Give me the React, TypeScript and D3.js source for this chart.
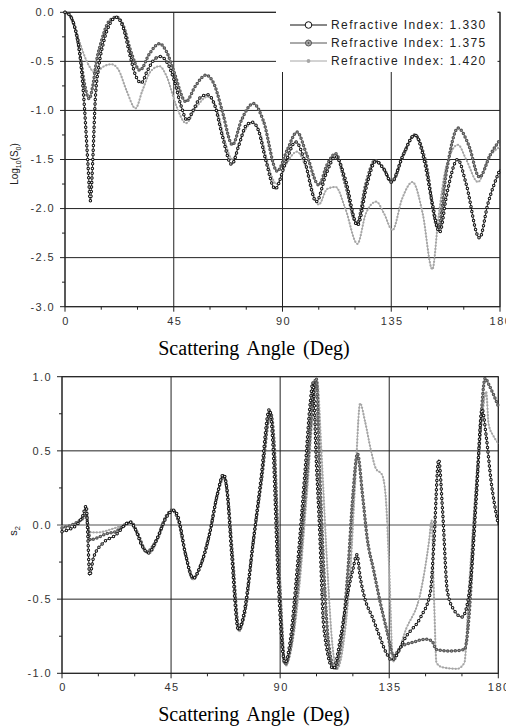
import React from 'react';
import * as d3 from 'd3';

type P = [number, number];

const xTicks = [0, 45, 90, 135, 180];
const xMinorTicks = [15, 30, 60, 75, 105, 120, 150, 165];
const topYTicks = [0, -0.5, -1, -1.5, -2, -2.5, -3];
const topYMinor = [-0.25, -0.75, -1.25, -1.75, -2.25, -2.75];
const botYTicks = [1, 0.5, 0, -0.5, -1];
const botYMinor = [0.75, 0.25, -0.25, -0.75];
const legendLabels = ['Refractive Index: 1.330', 'Refractive Index: 1.375', 'Refractive Index: 1.420'];

// Top panel: Log10(S0) vs scattering angle
const logS0_1330: P[] = [
  [0, 0], [2, -0.03], [4, -0.15], [6, -0.4], [8, -0.95], [9.5, -1.55], [10.5, -1.92], [11.5, -1.5], [12.5, -0.9],
  [14, -0.55], [16, -0.3], [18.5, -0.12], [21.3, -0.05], [24, -0.15], [27, -0.45], [29, -0.63], [31.5, -0.72],
  [34, -0.6], [37, -0.48], [39.5, -0.45], [42, -0.5], [45, -0.68], [48, -0.95], [50.5, -1.1], [53, -1.0],
  [56, -0.87], [59, -0.84], [62, -0.95], [65, -1.25], [69, -1.55], [72, -1.35], [75, -1.15], [77.5, -1.12],
  [80, -1.2], [83, -1.5], [87, -1.8], [91, -1.55], [95.5, -1.32], [99, -1.5], [104, -1.93], [108, -1.65],
  [112, -1.47], [116, -1.7], [121, -2.17], [125, -1.75], [128.5, -1.52], [132, -1.6], [135, -1.73], [140, -1.45],
  [144.8, -1.25], [149, -1.55], [152, -1.95], [155, -2.24], [158, -1.85], [162.5, -1.5], [166, -1.75],
  [171.5, -2.3], [175, -1.95], [180, -1.6],
];
const logS0_1375: P[] = [
  [0, 0], [2, -0.03], [4, -0.15], [6, -0.4], [8, -0.72], [10, -0.88], [11.5, -0.75], [13, -0.5], [15, -0.3],
  [18, -0.1], [21.3, -0.05], [24, -0.13], [27, -0.38], [31, -0.59], [35, -0.42], [39, -0.32], [42, -0.4],
  [45, -0.6], [50, -0.91], [54, -0.75], [58.3, -0.64], [62, -0.75], [65, -1.0], [69.3, -1.35], [73, -1.1],
  [78, -0.93], [82, -1.1], [87.8, -1.62], [92, -1.4], [96, -1.22], [100, -1.45], [105, -1.76], [108.5, -1.55],
  [112, -1.44], [116, -1.75], [120.8, -2.15], [124.5, -1.75], [128.3, -1.51], [132, -1.6], [135.2, -1.73],
  [140, -1.45], [144.8, -1.25], [149, -1.5], [154.4, -2.2], [158, -1.6], [162.6, -1.18], [167, -1.35],
  [171.5, -1.68], [176, -1.45], [180, -1.3],
];
const logS0_1420: P[] = [
  [0, 0], [3, -0.08], [6, -0.3], [9, -0.5], [12.8, -0.62], [15.5, -0.56], [19.2, -0.53], [22, -0.58],
  [25.5, -0.8], [29.2, -0.98], [32, -0.8], [35.5, -0.6], [39.1, -0.55], [42, -0.65], [46, -0.95], [50.1, -1.13],
  [54, -0.98], [59, -0.86], [63, -1.0], [66, -1.3], [69.3, -1.5], [73, -1.27], [77.5, -1.13], [81, -1.25],
  [84, -1.55], [87.5, -1.75], [91.5, -1.55], [96, -1.42], [100, -1.6], [105, -1.96], [108.5, -1.8],
  [112, -1.78], [116, -2.0], [121, -2.36], [124.5, -2.05], [128.8, -1.93], [132, -2.05], [135.5, -2.22],
  [139.5, -1.9], [143.8, -1.73], [148, -2.05], [152, -2.62], [154.5, -2.1], [157.5, -1.6], [162.6, -1.35],
  [166, -1.5], [170.9, -1.73], [175, -1.5], [180, -1.37],
];

// Bottom panel: S2 vs scattering angle
const s2_1330: P[] = [
  [0, -0.045], [3, -0.03], [6, 0.0], [8.5, 0.06], [10, 0.13], [10.6, -0.05], [11.4, -0.34], [13, -0.22],
  [17, -0.12], [22, -0.07], [28, 0.02], [30, -0.02], [33, -0.14], [35.6, -0.19], [39, -0.1], [43, 0.05],
  [46, 0.1], [48, 0.05], [51, -0.2], [54.2, -0.36], [57, -0.28], [61, -0.05], [64, 0.2], [66.6, 0.34],
  [68, 0.25], [70, -0.2], [72.8, -0.71], [75, -0.6], [79, -0.1], [82, 0.3], [85.6, 0.78], [87, 0.55],
  [89, -0.3], [92, -0.93], [94, -0.8], [97, -0.3], [100.3, 0.37], [102.4, 0.82], [103.5, 0.96], [105, 0.4],
  [106.2, 0.0], [108, -0.69], [112, -0.97], [115, -0.75], [118, -0.45], [120, -0.3], [121.7, -0.2],
  [123, -0.35], [125, -0.5], [128, -0.62], [131, -0.75], [134, -0.87], [136, -0.91], [142, -0.75],
  [148, -0.62], [152, -0.45], [153.5, -0.1], [155.4, 0.44], [157, 0.1], [159, -0.45], [162, -0.58],
  [165, -0.62], [167, -0.55], [169, -0.3], [171, 0.2], [173.3, 0.78], [175, 0.6], [177, 0.3], [180, 0.0],
];
const s2_1375: P[] = [
  [0, -0.02], [4, 0.0], [8, 0.04], [10, 0.07], [10.8, -0.02], [11.6, -0.1], [14, -0.09], [18, -0.06],
  [22, -0.045], [26, 0.0], [28.5, 0.02], [31, -0.05], [35, -0.18], [39, -0.1], [43, 0.06], [45.5, 0.1],
  [48, 0.03], [51, -0.2], [54, -0.36], [57, -0.28], [61, -0.05], [64, 0.2], [66.8, 0.33], [68.3, 0.2],
  [70.3, -0.2], [73, -0.7], [75.3, -0.6], [79, -0.1], [82.3, 0.3], [86, 0.76], [87.5, 0.55], [89.5, -0.3],
  [92, -0.94], [94.5, -0.8], [97.5, -0.35], [100.8, 0.3], [104.9, 0.99], [106, 0.5], [108, -0.3],
  [110, -0.8], [112.6, -0.97], [115.5, -0.75], [118, -0.3], [120, 0.2], [121.9, 0.48], [124, 0.2],
  [126, -0.1], [128.5, -0.3], [131, -0.5], [134, -0.71], [136.8, -0.88], [140, -0.82], [145, -0.79],
  [150, -0.77], [152.5, -0.78], [154.5, -0.84], [160, -0.85], [166, -0.84], [168, -0.6], [170, 0.0],
  [172, 0.5], [174.6, 0.99], [176, 0.95], [178, 0.88], [180, 0.8],
];
const s2_1420: P[] = [
  [0, -0.01], [4, 0.0], [8, 0.03], [10, 0.05], [11, -0.03], [12, -0.05], [15, -0.05], [20, -0.03],
  [25, 0.0], [27.5, 0.02], [30, -0.03], [34, -0.17], [36, -0.19], [40, -0.08], [44, 0.08], [46, 0.1],
  [48, 0.03], [51, -0.2], [54.2, -0.37], [57, -0.28], [61, -0.05], [64, 0.2], [66.8, 0.33], [68.3, 0.2],
  [70.3, -0.2], [73, -0.72], [75.3, -0.6], [79, -0.1], [82.3, 0.3], [86, 0.75], [87.5, 0.55], [89.8, -0.3],
  [92.3, -0.95], [95, -0.8], [98, -0.4], [101, 0.2], [105.3, 0.97], [107, 0.5], [109.5, -0.3], [111.5, -0.8],
  [113.5, -0.97], [116.5, -0.75], [119, -0.3], [121, 0.3], [123, 0.82], [125, 0.7], [127.5, 0.5],
  [129.5, 0.38], [132, 0.34], [133.5, 0.2], [135, -0.3], [136.5, -0.92], [142, -0.7], [148, -0.45],
  [151.5, -0.1], [152.5, 0.03], [153.5, -0.5], [154.5, -0.93], [157, -0.96], [163, -0.97], [166, -0.93],
  [168, -0.4], [171, 0.3], [173.5, 0.75], [175, 0.9], [176, 0.68], [178, 0.6], [180, 0.55],
];

const topSeries = [logS0_1420, logS0_1375, logS0_1330];
const botSeries = [s2_1420, s2_1375, s2_1330];

const styles = [
  { line: '#a6a6a6', bead: '#a6a6a6', inner: null as string | null, bw: 2.3, iw: 0, gap: 3.2 },
  { line: '#555', bead: '#555', inner: '#a8a8a8' as string | null, bw: 3.5, iw: 1.2, gap: 3.8 },
  { line: '#111', bead: '#111', inner: '#fff' as string | null, bw: 3.5, iw: 1.5, gap: 4.6 },
];

const tickFont = "'Liberation Sans', Arial, sans-serif";
const serif = "'Liberation Serif', 'Times New Roman', serif";

function Series({ data, x, y, st }: any) {
  const gen = d3.line<P>().x(d => x(d[0])).y(d => y(d[1])).curve(d3.curveMonotoneX);
  const dPath = gen(data) || '';
  return (
    <g fill="none">
      <path d={dPath} stroke={st.line} strokeWidth={0.9} />
      <path d={dPath} stroke={st.bead} strokeWidth={st.bw} strokeLinecap="round" strokeDasharray={`0 ${st.gap}`} />
      {st.inner && (
        <path d={dPath} stroke={st.inner} strokeWidth={st.iw} strokeLinecap="round" strokeDasharray={`0 ${st.gap}`} />
      )}
    </g>
  );
}

function Panel({ x, y, yTicks, yMinor, series, fmt, zeroGray }: any) {
  const [x0, x1] = x.range();
  const [yb, yt] = y.range();
  return (
    <g>
      {yTicks.map((t: number) => (
        <line key={'gy' + t} x1={x0 - 5} x2={x1} y1={y(t)} y2={y(t)}
          stroke={zeroGray && t === 0 ? '#8a8a8a' : '#222'} strokeWidth={zeroGray && t === 0 ? 1.5 : 1} />
      ))}
      {xTicks.map((t) => (
        <line key={'gx' + t} x1={x(t)} x2={x(t)} y1={yt} y2={yb + 5} stroke="#222" strokeWidth={1} />
      ))}
      {yMinor.map((t: number) => (
        <line key={'my' + t} x1={x0 - 3} x2={x0} y1={y(t)} y2={y(t)} stroke="#222" />
      ))}
      {xMinorTicks.map((t) => (
        <line key={'mx' + t} x1={x(t)} x2={x(t)} y1={yb} y2={yb + 3} stroke="#222" />
      ))}
      <rect x={x0} y={yt} width={x1 - x0} height={yb - yt} fill="none" stroke="#222" strokeWidth={1} />
      {yTicks.map((t: number) => (
        <text key={'ly' + t} x={x0 - 10} y={y(t) + 3.8} textAnchor="end" fontSize={11}
          fontFamily={tickFont} letterSpacing={1.4} fill="#333">{fmt(t)}</text>
      ))}
      {xTicks.map((t) => (
        <text key={'lx' + t} x={x(t) + 1} y={yb + 18} textAnchor="middle" fontSize={11}
          fontFamily={tickFont} letterSpacing={1.5} fill="#333">{String(t)}</text>
      ))}
      {series.map((s: P[], i: number) => (
        <Series key={i} data={s} x={x} y={y} st={styles[i]} />
      ))}
    </g>
  );
}

function LegendMarker({ i, cx, cy }: any) {
  if (i === 0) return <circle cx={cx} cy={cy} r={3.3} fill="#fff" stroke="#111" strokeWidth={1} />;
  if (i === 1) return (
    <g>
      <circle cx={cx} cy={cy} r={3} fill="#a8a8a8" stroke="#555" strokeWidth={1} />
      <circle cx={cx} cy={cy} r={0.9} fill="#555" />
    </g>
  );
  return <circle cx={cx} cy={cy} r={1.9} fill="#a6a6a6" />;
}

export default function App() {
  const xTop = d3.scaleLinear().domain([0, 180]).range([65, 500]);
  const yTop = d3.scaleLinear().domain([-3, 0]).range([306.7, 12.3]);
  const xBot = d3.scaleLinear().domain([0, 180]).range([62, 498.3]);
  const yBot = d3.scaleLinear().domain([-1, 1]).range([673.3, 376.7]);
  const fmt = (v: number) => d3.format('.1f')(v).replace('−', '-');
  const legendColors = ['#111', '#555', '#a6a6a6'];

  return (
    <svg width={506} height={727} style={{ position: 'absolute', left: 0, top: 0, background: '#fff' }}>
      <rect x={0} y={0} width={506} height={727} fill="#fff" />
      <Panel x={xTop} y={yTop} yTicks={topYTicks} yMinor={topYMinor} series={topSeries} fmt={fmt} zeroGray={false} />
      <Panel x={xBot} y={yBot} yTicks={botYTicks} yMinor={botYMinor} series={botSeries} fmt={fmt} zeroGray={true} />

      <rect x={276} y={9} width={221.5} height={63} fill="#fff" />
      {legendLabels.map((lab, i) => {
        const ly = 25 + i * 18;
        return (
          <g key={lab}>
            <line x1={290} x2={327} y1={ly} y2={ly} stroke={legendColors[i]} strokeWidth={1} />
            <LegendMarker i={i} cx={308.5} cy={ly} />
            <text x={331} y={ly + 4.3} fontSize={12} fontFamily={tickFont} letterSpacing={1.4} fill="#222">{lab}</text>
          </g>
        );
      })}

      <text x={254} y={355} textAnchor="middle" fontSize={20} fontFamily={serif} wordSpacing={3} fill="#000">
        Scattering Angle (Deg)
      </text>
      <text x={254} y={721} textAnchor="middle" fontSize={20} fontFamily={serif} wordSpacing={3} fill="#000">
        Scattering Angle (Deg)
      </text>
      <text transform="translate(18,164) rotate(-90)" textAnchor="middle" fontSize={10} fontFamily={tickFont} fill="#222">
        Log<tspan fontSize={7} dy={2.5}>10</tspan><tspan dy={-2.5}>(S</tspan><tspan fontSize={7} dy={2.5}>0</tspan><tspan dy={-2.5}>)</tspan>
      </text>
      <text transform="translate(17,531) rotate(-90)" textAnchor="middle" fontSize={11} fontFamily={tickFont} fill="#222">
        s<tspan fontSize={7.5} dy={2.5}>2</tspan>
      </text>
    </svg>
  );
}
